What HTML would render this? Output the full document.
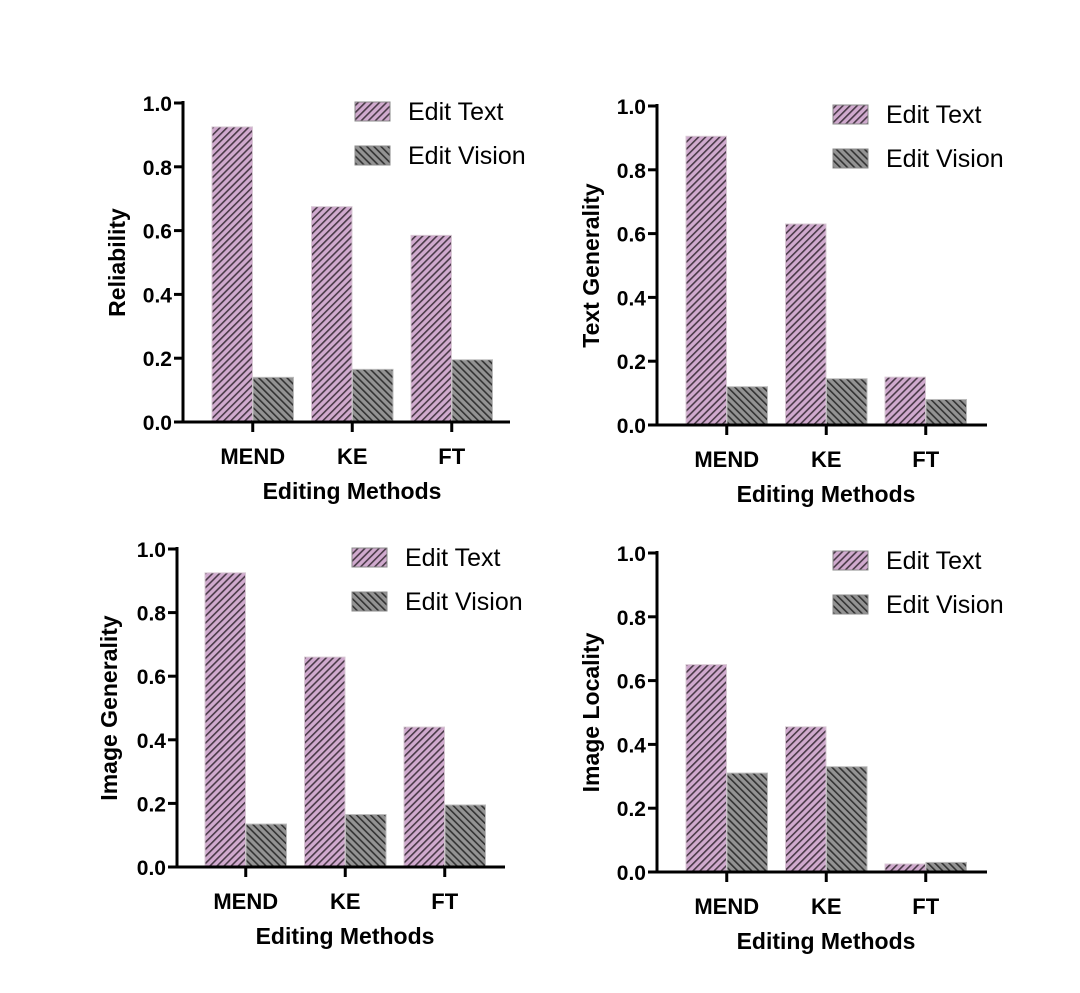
<!DOCTYPE html>
<html><head><meta charset="utf-8"><style>
html,body{margin:0;padding:0;background:#fff;}
svg{display:block;font-family:"Liberation Sans",Arial,sans-serif;}
</style></head><body>
<svg id="c" width="1080" height="993" viewBox="0 0 1080 993">
<defs>
<pattern id="pText" patternUnits="userSpaceOnUse" width="5" height="5" patternTransform="rotate(45)">
<rect width="5" height="5" fill="#d0aace"/><rect width="1.6" height="5" fill="#4a3a48"/></pattern>
<pattern id="pVision" patternUnits="userSpaceOnUse" width="5" height="5" patternTransform="rotate(-45)">
<rect width="5" height="5" fill="#939393"/><rect width="1.6" height="5" fill="#333"/></pattern>
</defs>
</svg>
<script>
const categories = ["MEND","KE","FT"];
const yTicks = [0.0,0.2,0.4,0.6,0.8,1.0];
const yTickLabels = ["0.0","0.2","0.4","0.6","0.8","1.0"];
const seriesNames = ["Edit Text","Edit Vision"];
const reliabilityText = [0.925,0.675,0.585];
const reliabilityVision = [0.14,0.165,0.195];
const textGenText = [0.905,0.63,0.15];
const textGenVision = [0.12,0.145,0.08];
const imageGenText = [0.925,0.66,0.44];
const imageGenVision = [0.135,0.165,0.195];
const imageLocText = [0.65,0.455,0.025];
const imageLocVision = [0.31,0.33,0.03];

const panels = [
 {name:"reliability",title:"Reliability",text:reliabilityText,vision:reliabilityVision,ax:183,top:103,base:422,x0:212,right:510,ytx:125,legX:355,legY:111},
 {name:"text-generality",title:"Text Generality",text:textGenText,vision:textGenVision,ax:657,top:106,base:425,x0:686,right:987,ytx:599,legX:833,legY:114},
 {name:"image-generality",title:"Image Generality",text:imageGenText,vision:imageGenVision,ax:177,top:549,base:867,x0:205,right:505,ytx:117,legX:352,legY:557},
 {name:"image-locality",title:"Image Locality",text:imageLocText,vision:imageLocVision,ax:657,top:553,base:872,x0:686,right:987,ytx:599,legX:833,legY:560}
];
const svg = document.getElementById('c');
const NS = "http://www.w3.org/2000/svg";
function mk(tag, attrs, parent){const e=document.createElementNS(NS,tag);for(const k in attrs)e.setAttribute(k,attrs[k]);(parent||svg).appendChild(e);return e;}

panels.forEach(p=>{
 const g = mk('g',{});
 
 
 const y = v => p.base - v*(p.base-p.top);
 const groupW = 99.5, barW = 40.5;
 const gx = i => p.x0 + i*groupW;
 categories.forEach((c,i)=>{
  const b1 = mk('rect',{x:gx(i),y:y(p.text[i]),width:barW,height:p.base-y(p.text[i]),fill:"url(#pText)",stroke:"#d8c8d4","stroke-width":1},g);
  
  
  const b2 = mk('rect',{x:gx(i)+barW+0.5,y:y(p.vision[i]),width:barW,height:p.base-y(p.vision[i]),fill:"url(#pVision)",stroke:"#bbb","stroke-width":1},g);
  
  
  const cx = gx(i)+barW+0.25;
  mk('line',{x1:cx,x2:cx,y1:p.base,y2:p.base+10,stroke:"#000","stroke-width":3},g);
  const t = mk('text',{x:cx,y:p.base+42,"text-anchor":"middle","font-size":22,"font-weight":"bold"},g);
  t.textContent=c;
  
  
 });
 mk('line',{x1:p.ax,x2:p.ax,y1:p.top-2,y2:p.base+1.5,stroke:"#000","stroke-width":3},g);
 mk('line',{x1:p.ax-3,x2:p.right,y1:p.base,y2:p.base,stroke:"#000","stroke-width":3},g);
 yTicks.forEach((v,i)=>{
  mk('line',{x1:p.ax-9,x2:p.ax,y1:y(v),y2:y(v),stroke:"#000","stroke-width":3},g);
  const t = mk('text',{x:p.ax-11,y:y(v)+8,"text-anchor":"end","font-size":21,"font-weight":"bold"},g);
  t.textContent=yTickLabels[i];
  
  
 });
 const xt = mk('text',{x:(p.x0+gx(2)+2*barW)/2,y:p.base+77,"text-anchor":"middle","font-size":23,"font-weight":"bold"},g);
 xt.textContent="Editing Methods";
 
 
 const ym=(p.top+p.base)/2;
 const yt = mk('text',{x:p.ytx,y:ym,"text-anchor":"middle","font-size":23,"font-weight":"bold",transform:`rotate(-90 ${p.ytx} ${ym})`},g);
 yt.textContent=p.title;
 
 
 seriesNames.forEach((s,i)=>{
  const ly = p.legY + i*44;
  const sw = mk('rect',{x:p.legX,y:ly-9,width:35,height:19,fill:i?"url(#pVision)":"url(#pText)",stroke:"#888","stroke-width":1},g);
  
  
  const lt = mk('text',{x:p.legX+53,y:ly+9,"font-size":25},g);
  lt.textContent=s;
  
  
 });
});
</script>
</body></html>
